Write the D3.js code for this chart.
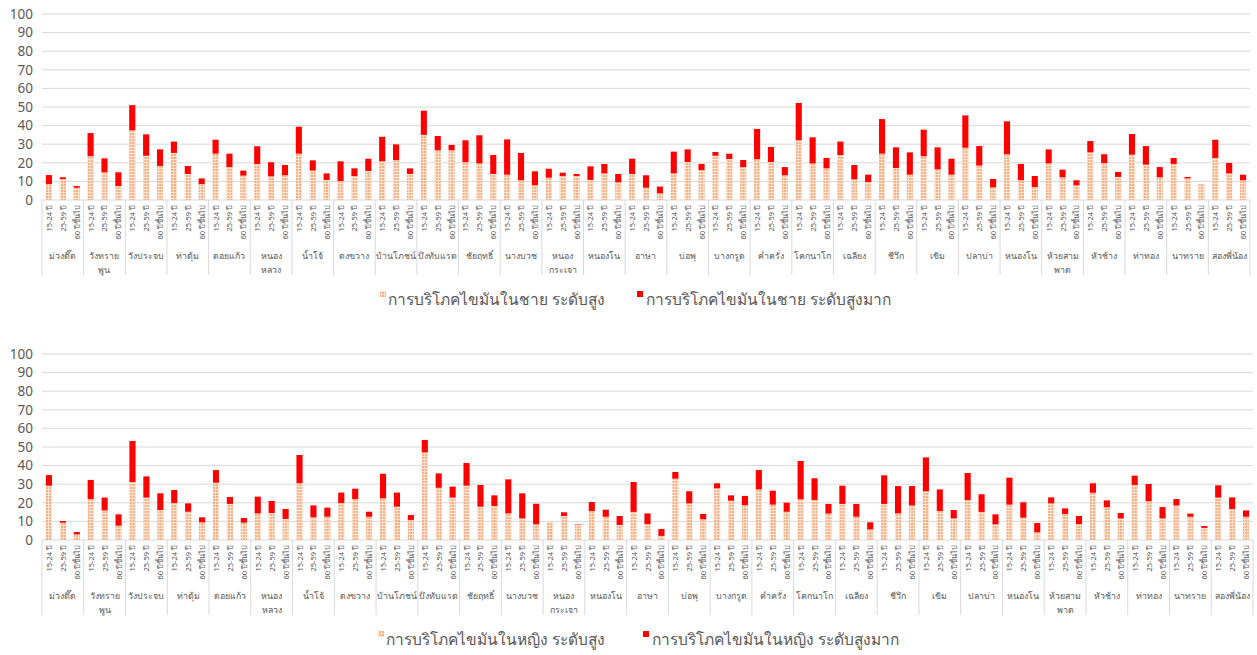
<!DOCTYPE html>
<html>
<head>
<meta charset="utf-8">
<script src="https://cdn.jsdelivr.net/npm/d3@7"></script>
<style>
  body { margin: 0; background: #fff; }
  text { font-family: "Noto Sans", "Open Sans", sans-serif; fill: #595959; }
</style>
</head>
<body>
<svg width="1257" height="655"></svg>
<script>
// sub-districts (line break = wrapped label)
var groups = ["ม่วงตึ๊ด", "วังทราย\nพูน", "วังประจบ", "ท่าตุ้ม", "ดอยแก้ว", "หนอง\nหลวง", "น้ำโจ้",
  "ดงขวาง", "บ้านโภชน์", "บึงทับแรต", "ชัยฤทธิ์", "นางบวช", "หนอง\nกระเจา", "หนองโน", "อาษา",
  "บ่อพุ", "บางกรูด", "คำครั่ง", "โคกนาโก", "เฉลียง", "ชีวึก", "เขิม", "ปลาบ่า", "หนองโน",
  "ห้วยสาม\nพาด", "หัวช้าง", "ท่าทอง", "นาทราย", "สองพี่น้อง"];
var ages = ["15-24 ปี", "25-59 ปี", "60 ปีขึ้นไป"];
var yTicks = [0, 10, 20, 30, 40, 50, 60, 70, 80, 90, 100];

// male: [15-24, 25-59, 60+] per group
var maleHigh = [
  [8.6, 11.3, 6.6], [23.5, 14.9, 7.5], [37.5, 23.8, 18.3], [25.3, 14.0, 8.6], [24.9, 17.7, 13.1],
  [19.4, 12.7, 13.3], [24.9, 15.8, 10.8], [10.2, 12.9, 15.6], [20.8, 21.5, 14.0], [35.0, 26.7, 26.7],
  [20.3, 19.7, 14.0], [13.6, 10.6, 7.9], [12.0, 12.9, 12.9], [10.8, 14.3, 9.5], [14.0, 6.6, 3.6],
  [14.3, 20.4, 16.1], [23.8, 22.0, 17.7], [21.9, 20.4, 13.3], [32.1, 19.7, 17.0], [24.2, 11.1, 9.7],
  [24.9, 17.2, 13.6], [23.5, 16.5, 13.6], [28.1, 18.5, 6.8], [24.6, 10.6, 7.0], [19.7, 12.2, 7.9],
  [25.6, 19.9, 12.4], [24.4, 19.0, 12.2], [19.4, 11.6, 8.6], [22.6, 14.3, 10.6]];
var maleVeryHigh = [
  [4.8, 0.9, 0.9], [12.5, 7.5, 7.4], [13.5, 11.5, 8.9], [6.1, 4.3, 3.0], [7.5, 7.2, 2.7],
  [9.5, 7.6, 5.5], [14.5, 5.5, 3.5], [10.6, 4.1, 6.6], [13.2, 8.4, 3.0], [13.0, 7.7, 2.9],
  [11.8, 15.1, 10.2], [19.0, 14.7, 7.5], [4.8, 1.8, 1.1], [7.3, 5.1, 4.5], [8.2, 6.7, 3.6],
  [11.7, 6.8, 3.3], [2.0, 2.9, 3.8], [16.3, 8.1, 4.4], [20.1, 14.0, 5.6], [7.2, 7.7, 3.9],
  [18.6, 11.1, 12.0], [14.3, 11.8, 8.6], [17.4, 10.5, 4.5], [17.7, 8.8, 5.9], [7.5, 4.1, 2.7],
  [6.1, 4.7, 2.7], [11.1, 10.0, 5.5], [3.2, 0.8, 0], [9.8, 5.6, 3.0]];

// female
var femaleHigh = [
  [29.2, 9.3, 3.0], [22.0, 15.9, 7.7], [31.2, 22.8, 16.1], [19.9, 15.2, 9.5], [30.8, 19.4, 9.3],
  [14.3, 14.5, 11.3], [30.5, 12.2, 12.5], [19.9, 22.0, 12.5], [22.4, 17.9, 10.8], [47.1, 28.1, 22.8],
  [29.2, 17.9, 18.3], [14.3, 11.6, 8.4], [9.7, 12.9, 8.4], [15.6, 12.5, 8.1], [15.1, 8.6, 2.2],
  [33.0, 19.7, 11.1], [27.8, 21.1, 18.8], [27.2, 19.0, 15.2], [21.9, 21.5, 14.2], [19.4, 12.5, 5.7],
  [19.4, 14.3, 18.6], [26.2, 15.6, 11.6], [21.5, 15.1, 8.4], [19.0, 12.0, 4.1], [19.7, 14.0, 8.6],
  [25.4, 17.6, 11.6], [29.6, 20.8, 11.6], [18.6, 12.5, 6.5], [22.8, 16.7, 12.5]];
var femaleVeryHigh = [
  [5.7, 0.9, 1.3], [10.3, 6.9, 6.1], [22.0, 11.4, 9.0], [7.0, 4.5, 2.7], [6.8, 3.7, 2.5],
  [9.0, 6.5, 5.4], [15.2, 6.4, 4.9], [5.6, 5.6, 2.7], [13.2, 7.6, 2.6], [6.7, 7.7, 5.9],
  [12.2, 11.7, 5.7], [18.3, 13.5, 11.1], [0, 2.0, 0.2], [4.8, 3.8, 4.8], [16.1, 5.7, 3.7],
  [3.6, 6.5, 2.9], [2.7, 2.9, 4.9], [10.4, 7.5, 4.9], [20.6, 11.7, 5.2], [9.8, 6.9, 3.8],
  [15.4, 14.7, 10.4], [18.2, 11.6, 4.5], [14.5, 9.5, 5.4], [14.5, 8.3, 5.0], [3.2, 3.0, 4.3],
  [5.1, 3.7, 2.9], [5.0, 9.3, 6.1], [3.4, 1.7, 1.0], [6.6, 6.2, 3.4]];

var svg = d3.select("svg");

// dotted orange fill like the Excel pattern
var defs = svg.append("defs");
var pat = defs.append("pattern")
  .attr("id", "orangeDots")
  .attr("patternUnits", "userSpaceOnUse")
  .attr("width", 3).attr("height", 3);
pat.append("rect").attr("width", 3).attr("height", 3).attr("fill", "#f6ad7f");
pat.append("rect").attr("width", 3).attr("height", 1).attr("fill", "#fde3d2");
pat.append("rect").attr("width", 1).attr("height", 3).attr("fill", "#fde3d2");

function drawChart(cfg) {
  var g = svg.append("g");

  var x = d3.scaleBand().domain(d3.range(groups.length)).range([cfg.left, cfg.right]);
  var xa = d3.scaleBand().domain(ages).range([0, x.bandwidth()])
    .paddingInner(0.56).paddingOuter(0.28);
  var y = d3.scaleLinear().domain([0, 100]).range([cfg.y0, cfg.y100]);

  // gridlines
  g.selectAll(".grid").data(yTicks).enter().append("line")
    .attr("x1", cfg.left).attr("x2", cfg.right)
    .attr("y1", function(d) { return y(d); }).attr("y2", function(d) { return y(d); })
    .attr("stroke", "#d9d9d9").attr("stroke-width", 1);

  // y labels
  g.selectAll(".ylab").data(yTicks).enter().append("text")
    .attr("x", cfg.left - 9).attr("y", function(d) { return y(d); })
    .attr("dy", "0.35em").attr("text-anchor", "end")
    .style("font-size", "13.5px")
    .text(function(d) { return d; });

  // group separators
  g.selectAll(".sep").data(d3.range(groups.length + 1)).enter().append("line")
    .attr("x1", function(i) { return cfg.left + i * x.step(); })
    .attr("x2", function(i) { return cfg.left + i * x.step(); })
    .attr("y1", cfg.y0).attr("y2", cfg.y0 + 75)
    .attr("stroke", "#d9d9d9").attr("stroke-width", 1);

  var gg = g.selectAll(".grp").data(groups).enter().append("g")
    .attr("transform", function(d, i) { return "translate(" + x(i) + ",0)"; });

  // stacked bars
  gg.each(function(name, gi) {
    var sel = d3.select(this);
    ages.forEach(function(a, ai) {
      var h = cfg.high[gi][ai], v = cfg.veryHigh[gi][ai];
      sel.append("rect")
        .attr("x", xa(a)).attr("width", xa.bandwidth())
        .attr("y", y(h)).attr("height", y(0) - y(h))
        .attr("fill", "url(#orangeDots)");
      if (v > 0) {
        sel.append("rect")
          .attr("x", xa(a)).attr("width", xa.bandwidth())
          .attr("y", y(h + v)).attr("height", y(h) - y(h + v))
          .attr("fill", "#ff0000");
      }
      // rotated age label
      sel.append("text")
        .attr("transform", "translate(" + (xa(a) + xa.bandwidth() / 2 + 3) + "," + (cfg.y0 + 5) + ") rotate(-90)")
        .attr("text-anchor", "end")
        .style("font-size", "7.5px")
        .text(a);
    });
    // group label (wrapped)
    var lines = name.split("\n");
    var t = sel.append("text")
      .attr("text-anchor", "middle")
      .style("font-size", "8.8px");
    lines.forEach(function(l, li) {
      t.append("tspan").attr("x", x.bandwidth() / 2)
        .attr("y", cfg.y0 + 59 + li * 13.5).text(l);
    });
  });

  // legend
  var leg = g.append("g");
  leg.append("rect").attr("x", cfg.leg1).attr("y", cfg.legY - 14)
    .attr("width", 6).attr("height", 6).attr("fill", "url(#orangeDots)");
  leg.append("text").attr("x", cfg.leg1 + 8).attr("y", cfg.legY)
    .style("font-size", "15.5px").text(cfg.labels[0]);
  leg.append("rect").attr("x", cfg.leg2).attr("y", cfg.legY - 14)
    .attr("width", 6).attr("height", 6).attr("fill", "#ff0000");
  leg.append("text").attr("x", cfg.leg2 + 9).attr("y", cfg.legY)
    .style("font-size", "15.5px").text(cfg.labels[1]);
}

drawChart({
  left: 42, right: 1250, y0: 200, y100: 14,
  high: maleHigh, veryHigh: maleVeryHigh,
  legY: 305, leg1: 380, leg2: 637,
  labels: ["การบริโภคไขมันในชาย ระดับสูง", "การบริโภคไขมันในชาย ระดับสูงมาก"]
});

drawChart({
  left: 42, right: 1253, y0: 540, y100: 354,
  high: femaleHigh, veryHigh: femaleVeryHigh,
  legY: 645, leg1: 378, leg2: 643,
  labels: ["การบริโภคไขมันในหญิง ระดับสูง", "การบริโภคไขมันในหญิง ระดับสูงมาก"]
});
</script>
</body>
</html>
